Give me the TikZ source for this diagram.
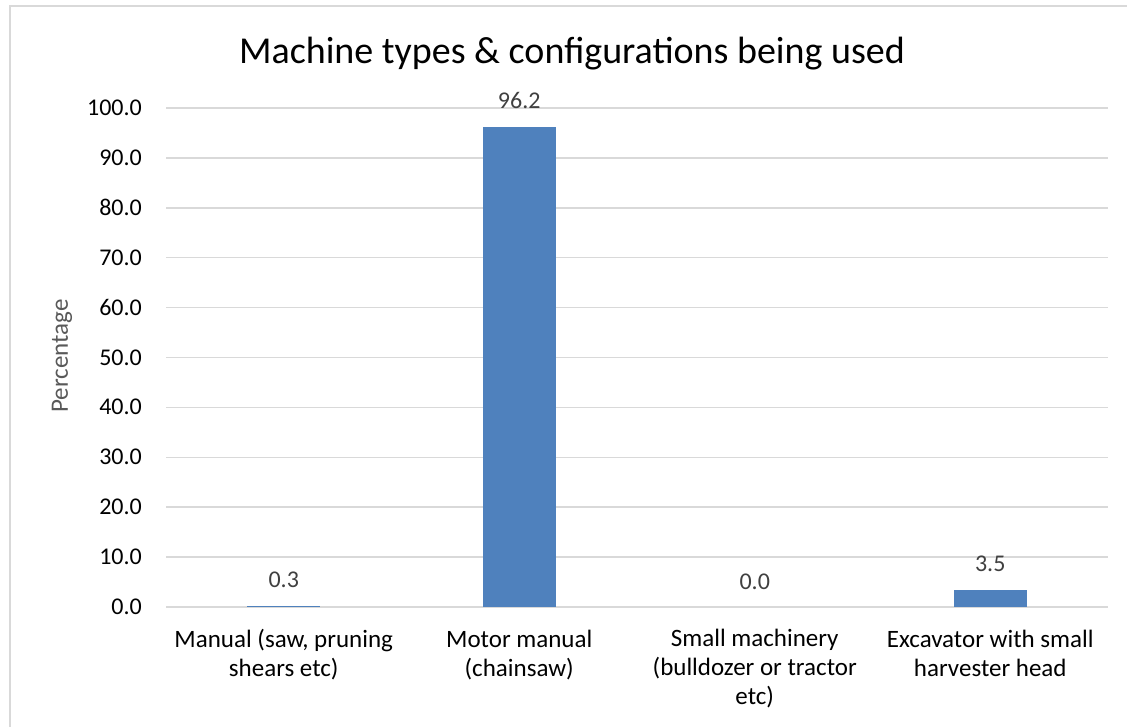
\documentclass[tikz,border=0pt]{standalone}
\usepackage{fontspec}
\setmainfont{Carlito}
\definecolor{gridgray}{HTML}{D9D9D9}
\definecolor{barblue}{HTML}{4F81BD}
\definecolor{labelgray}{HTML}{404040}
\definecolor{axisgray}{HTML}{595959}
\tikzset{
  gridline/.style={draw=gridgray, line width=1.5pt},
  bar/.style={fill=barblue},
  ticklabel/.style={anchor=base east, inner sep=0pt, font=\fontsize{24}{29}\selectfont, text=black},
  datalabel/.style={anchor=base, inner sep=0pt, font=\fontsize{24}{29}\selectfont, text=labelgray},
  catlabel/.style={anchor=base, inner sep=0pt, align=center, font=\fontsize{25}{29}\selectfont, text=black},
}
\begin{document}
\begin{tikzpicture}[x=1pt, y=-1pt]
  \useasboundingbox (0,0) rectangle (1127,726);
  \clip (0,0) rectangle (1127,726);
  \fill[white] (0,0) rectangle (1127,726);
  % chart frame
  \draw[gridgray, line width=1.5pt] (10,6) rectangle (1135,740);
  % title
  \node[anchor=base, inner sep=0pt, font=\fontsize{38}{46}\selectfont] (title) at (572,63)
    {Machine types \& configurations being used};
  % horizontal gridlines and value axis labels
  \foreach \v/\txt [count=\i] in {0/0.0,10/10.0,20/20.0,30/30.0,40/40.0,50/50.0,60/60.0,70/70.0,80/80.0,90/90.0,100/100.0} {
    \pgfmathsetmacro{\yy}{607-4.99*\v}
    \draw[gridline] (166,\yy) coordinate (gl\i) -- (1108,\yy);
    \node[ticklabel] (tick\i) at (142,\yy+7.5) {\txt};
  }
  % axis title
  \node[rotate=90, inner sep=0pt, font=\fontsize{25}{30}\selectfont, text=axisgray] (ytitle) at (62,356) {Percentage};
  % bars with value labels
  \foreach \val/\lab [count=\i] in {0.3/0.3, 96.2/96.2, 0/0.0, 3.5/3.5} {
    \pgfmathsetmacro{\cx}{166+235.5*(\i-0.5)}
    \pgfmathsetmacro{\top}{607-4.99*\val}
    \ifdim\val pt>0pt
      \fill[bar] (\cx-36.5,607) rectangle (\cx+36.5,\top);
    \fi
    \node[datalabel] (val\i) at (\cx,\top-18) {\lab};
  }
  % category labels (anchored at the baseline of their last line)
  \node[catlabel] (cat1) at (283.75,676) {Manual (saw, pruning\\shears etc)};
  \node[catlabel] (cat2) at (519.25,676) {Motor manual\\(chainsaw)};
  \node[catlabel] (cat3) at (754.75,704) {Small machinery\\(bulldozer or tractor\\etc)};
  \node[catlabel] (cat4) at (990.25,676) {Excavator with small\\harvester head};
\end{tikzpicture}
\end{document}
